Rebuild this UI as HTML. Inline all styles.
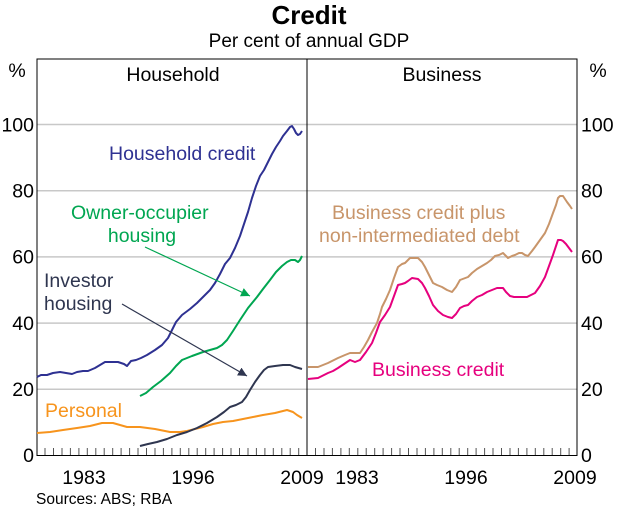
<!DOCTYPE html>
<html><head><meta charset="utf-8"><style>
html,body{margin:0;padding:0;background:#fff}
svg{display:block}
text{font-family:"Liberation Sans",Arial,sans-serif}
</style></head><body>
<svg width="618" height="509" viewBox="0 0 618 509" xmlns="http://www.w3.org/2000/svg">
<defs>
<marker id="ag" viewBox="0 0 10 10" refX="10" refY="5" markerWidth="9" markerHeight="9" orient="auto" markerUnits="userSpaceOnUse"><path d="M0,0 L10,5 L0,10 z" fill="#00a651"/></marker>
<marker id="ad" viewBox="0 0 10 10" refX="10" refY="5" markerWidth="9" markerHeight="9" orient="auto" markerUnits="userSpaceOnUse"><path d="M0,0 L10,5 L0,10 z" fill="#2f3650"/></marker>
</defs>
<text x="309" y="24" text-anchor="middle" font-size="26" font-weight="bold">Credit</text>
<text x="309" y="47" text-anchor="middle" font-size="19">Per cent of annual GDP</text>
<g stroke="#c8c8c8" stroke-width="1.5">
<line x1="37" y1="124.5" x2="577" y2="124.5"/>
<line x1="37" y1="190.7" x2="577" y2="190.7"/>
<line x1="37" y1="256.9" x2="577" y2="256.9"/>
<line x1="37" y1="323.1" x2="577" y2="323.1"/>
<line x1="37" y1="389.3" x2="577" y2="389.3"/>
</g>
<path d="M45,448 V455 M53.5,448 V455 M62,448 V455 M70.4,448 V455 M78.9,448 V455 M87.3,448 V455 M95.8,448 V455 M104.2,448 V455 M112.7,448 V455 M121.1,448 V455 M129.6,448 V455 M138,448 V455 M146.5,448 V455 M155,448 V455 M163.4,448 V455 M171.9,448 V455 M180.3,448 V455 M188.8,448 V455 M197.2,448 V455 M205.7,448 V455 M214.1,448 V455 M222.6,448 V455 M231,448 V455 M239.5,448 V455 M248,448 V455 M256.4,448 V455 M264.9,448 V455 M273.3,448 V455 M281.8,448 V455 M290.2,448 V455 M298.7,448 V455 M315.5,448 V455 M324,448 V455 M332.4,448 V455 M340.9,448 V455 M349.3,448 V455 M357.8,448 V455 M366.2,448 V455 M374.7,448 V455 M383.1,448 V455 M391.6,448 V455 M400,448 V455 M408.5,448 V455 M417,448 V455 M425.4,448 V455 M433.9,448 V455 M442.3,448 V455 M450.8,448 V455 M459.2,448 V455 M467.7,448 V455 M476.1,448 V455 M484.6,448 V455 M493,448 V455 M501.5,448 V455 M510,448 V455 M518.4,448 V455 M526.9,448 V455 M535.3,448 V455 M543.8,448 V455 M552.2,448 V455 M560.7,448 V455 M569.1,448 V455" stroke="#555" stroke-width="1"/>
<rect x="37" y="59" width="540" height="396.5" fill="none" stroke="#000" stroke-width="1"/>
<line x1="307" y1="59" x2="307" y2="455.5" stroke="#000" stroke-width="1"/>
<g font-size="19.5">
<text x="17" y="77" text-anchor="middle">%</text>
<text x="598" y="77" text-anchor="middle">%</text>
<text x="173" y="81" text-anchor="middle">Household</text>
<text x="442" y="81" text-anchor="middle">Business</text>
<g text-anchor="end">
<text x="34" y="131.5">100</text><text x="34" y="197.5">80</text><text x="34" y="263.5">60</text><text x="34" y="330">40</text><text x="34" y="396">20</text><text x="34" y="462">0</text>
</g>
<g text-anchor="start">
<text x="581" y="131.5">100</text><text x="581" y="197.5">80</text><text x="581" y="263.5">60</text><text x="581" y="330">40</text><text x="581" y="396">20</text><text x="581" y="462">0</text>
</g>
<g text-anchor="middle">
<text x="84" y="484">1983</text><text x="193" y="484">1996</text><text x="302" y="484">2009</text>
<text x="357" y="484">1983</text><text x="466" y="484">1996</text><text x="575" y="484">2009</text>
</g>
</g>
<text x="36" y="504" font-size="15.5">Sources: ABS; RBA</text>
<g fill="none" stroke-width="2" stroke-linejoin="round">
<polyline stroke="#f7941d" points="37,433 50,432 63,430 77,428 90,426 102,423 113,423 120,425 127,427 134,427 140,427 155,429 170,432 180,432 187,431 195,429 203,427 213,424 223,422 233,421 243,419 253,417 263,415 275,413 287,410 290,411 293,412 297,415 302,418"/>
<polyline stroke="#2f3650" points="140,446 148,444 157,442 167,439 177,435 187,432 197,428 207,423 217,417 224,412 230,407 236,405 242,402 246,397 250,390 255,382 260,375 264,370 268,367 275,366 283,365 290,365 295,367 302,369"/>
<polyline stroke="#00a651" points="140,396 146,393 153,387 161,381 170,373 176,366 182,360 192,356 203,352 210,350 217,348 222,345 227,340 233,331 240,320 248,308 257,297 263,289 270,280 276,272 282,266 287,262 291,260 295,260 298,262 300,260 302,256"/>
<polyline stroke="#2e3192" points="37,377 41,375 47,375 53,373 60,372 66,373 72,374 77,372 83,371 88,371 95,368 100,365 105,362 112,362 118,362 124,364 127,366 131,361 136,360 141,358 147,355 155,350 162,345 168,338 172,330 176,322 182,315 190,309 197,303 204,296 210,290 215,283 220,274 225,264 230,258 235,248 240,236 244,224 248,212 252,198 256,186 260,176 264,170 268,162 272,154 276,147 280,141 283,136 287,131 290,127 292,126 294,129 296,133 298,135 300,134 302,131"/>
<polyline stroke="#c8956a" points="308,367 318,367 328,363 338,358 345,355 350,353 355,353 360,353 364,347 368,340 372,332 377,323 380,314 382,307 386,299 390,290 394,278 398,267 402,264 405,263 408,260 410,258 418,258 422,262 425,267 429,275 433,283 437,285 442,287 447,290 452,292 456,287 460,280 468,277 472,273 477,269 482,266 487,263 491,260 495,256 499,255 503,253 506,256 508,258 512,256 515,255 519,253 522,253 525,255 528,256 532,251 535,247 540,240 545,233 549,224 553,213 556,205 558,198 560,196 563,196 567,202 570,206 572,209"/>
<polyline stroke="#e6007e" points="308,379 318,378 324,375 328,373 333,371 338,368 344,364 350,360 355,362 360,360 366,352 372,343 376,333 380,322 385,315 390,307 394,296 398,285 402,284 405,283 408,281 412,278 418,279 422,283 425,288 429,296 433,305 438,311 443,315 448,317 452,318 456,314 460,308 464,306 468,305 472,301 477,297 482,295 487,292 492,290 497,288 500,288 503,288 506,292 510,296 514,297 518,297 522,297 527,297 531,295 535,293 540,286 545,277 549,266 553,255 556,246 558,240 561,240 563,241 566,244 569,248 572,252"/>
</g>
<line x1="145" y1="247" x2="250" y2="296" stroke="#00a651" stroke-width="1.2" marker-end="url(#ag)"/>
<line x1="122" y1="304" x2="247" y2="376" stroke="#2f3650" stroke-width="1.2" marker-end="url(#ad)"/>
<g font-size="19.5">
<text x="109" y="160" fill="#2e3192">Household credit</text>
<text x="71" y="219" fill="#00a651">Owner-occupier</text>
<text x="142" y="242" fill="#00a651" text-anchor="middle">housing</text>
<text x="44" y="287" fill="#2f3650">Investor</text>
<text x="44" y="310" fill="#2f3650">housing</text>
<text x="45" y="417" fill="#f7941d">Personal</text>
<text x="332" y="219" fill="#c8956a">Business credit plus</text>
<text x="319" y="242" fill="#c8956a">non-intermediated debt</text>
<text x="372" y="376" fill="#e6007e">Business credit</text>
</g>
</svg>
</body></html>
